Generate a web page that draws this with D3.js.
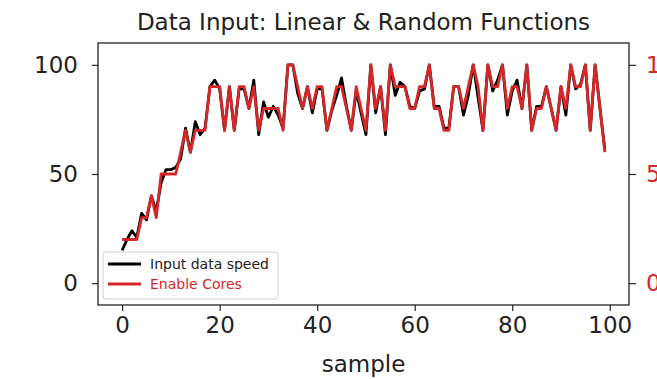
<!DOCTYPE html>
<html>
<head>
<meta charset="utf-8">
<title>Data Input</title>
<script src="https://d3js.org/d3.v7.min.js"></script>
<style>
  body { margin: 0; background: #fff; }
  svg { font-family: "DejaVu Sans", sans-serif; }
</style>
</head>
<body>
<script>
// input speed per sample (left axis)
const speed = [15, 20, 24, 21, 32, 29, 40, 33, 46, 52,
  52, 53, 57, 71, 60, 74, 68, 71, 90, 93,
  89, 70, 90, 70, 89, 89, 80, 93, 68, 83,
  76, 81, 77, 71, 100, 100, 87, 80, 90, 78,
  89, 89, 70, 79, 86, 94, 81, 70, 88, 78,
  68, 100, 78, 90, 68, 100, 86, 92, 90, 81,
  80, 88, 89, 100, 81, 81, 71, 71, 90, 90,
  77, 86, 100, 85, 70, 100, 88, 93, 100, 77,
  88, 93, 80, 100, 70, 81, 81, 90, 80, 70,
  90, 77, 100, 89, 91, 100, 70, 100, 80, 61]

// enabled cores per sample (right axis)
const cores = [2, 2, 2, 2, 3, 3, 4, 3, 5, 5,
  5, 5, 6, 7, 6, 7, 7, 7, 9, 9,
  9, 7, 9, 7, 9, 9, 8, 9, 7, 8,
  8, 8, 8, 7, 10, 10, 9, 8, 9, 8,
  9, 9, 7, 8, 9, 9, 8, 7, 9, 8,
  7, 10, 8, 9, 7, 10, 9, 9, 9, 8,
  8, 9, 9, 10, 8, 8, 7, 7, 9, 9,
  8, 9, 10, 9, 7, 10, 9, 9, 10, 8,
  9, 9, 8, 10, 7, 8, 8, 9, 8, 7,
  9, 8, 10, 9, 9, 10, 7, 10, 8, 6]

const xTicks = [0, 20, 40, 60, 80, 100]
const leftTicks = [0, 50, 100]
const rightTicks = [0, 5, 10]

const W = 657, H = 379
const red = "#d62728"
const mL = 98, mR = 629, mT = 43, mB = 305

const svg = d3.select("body").append("svg")
  .attr("width", W).attr("height", H)

const x = d3.scaleLinear().domain([-4.95, 103.95]).range([mL, mR])
const y = d3.scaleLinear().domain([-10, 110]).range([mB, mT])
const y2 = d3.scaleLinear().domain([-1, 11]).range([mB, mT])

// lines
const plot = svg.append("g")
const lineL = d3.line().x((d, i) => x(i)).y(d => y(d))
const lineR = d3.line().x((d, i) => x(i)).y(d => y2(d))

plot.append("path").datum(speed)
  .attr("d", lineL).attr("fill", "none")
  .attr("stroke", "#000").attr("stroke-width", 2.8)
  .attr("stroke-linejoin", "round")

plot.append("path").datum(cores)
  .attr("d", lineR).attr("fill", "none")
  .attr("stroke", red).attr("stroke-width", 2.8)
  .attr("stroke-linejoin", "round")

// axes
const fs = "23px"
const xAxis = svg.append("g")
  .attr("transform", `translate(0,${mB})`)
  .call(d3.axisBottom(x).tickValues(xTicks).tickSize(6).tickPadding(6))
const yAxis = svg.append("g")
  .attr("transform", `translate(${mL},0)`)
  .call(d3.axisLeft(y).tickValues(leftTicks).tickSize(6).tickPadding(14))
const y2Axis = svg.append("g")
  .attr("transform", `translate(${mR},0)`)
  .call(d3.axisRight(y2).tickValues(rightTicks).tickSize(7).tickPadding(10))

for (const a of [xAxis, yAxis, y2Axis]) {
  a.select(".domain").remove()
  a.selectAll("text").attr("font-size", fs).attr("font-family", "DejaVu Sans")
  a.selectAll("line").attr("stroke", "#222").attr("stroke-width", 1.2)
}
xAxis.selectAll("text").attr("fill", "#222")
yAxis.selectAll("text").attr("fill", "#222")
y2Axis.selectAll("text").attr("fill", red)

// frame
svg.append("rect")
  .attr("x", mL).attr("y", mT)
  .attr("width", mR - mL).attr("height", mB - mT)
  .attr("fill", "none").attr("stroke", "#222").attr("stroke-width", 1.3)

// title and x label
svg.append("text")
  .attr("x", (mL + mR) / 2).attr("y", 30)
  .attr("text-anchor", "middle").attr("font-size", "23px").attr("fill", "#222")
  .text("Data Input: Linear & Random Functions")

svg.append("text")
  .attr("x", (mL + mR) / 2).attr("y", 372)
  .attr("text-anchor", "middle").attr("font-size", "23px").attr("fill", "#222")
  .text("sample")

// legend
const lg = svg.append("g")
lg.append("rect")
  .attr("x", 103).attr("y", 252).attr("width", 175).attr("height", 47)
  .attr("rx", 3).attr("fill", "rgba(255,255,255,0.85)")
  .attr("stroke", "#d0d0d0").attr("stroke-width", 1)

const items = [
  {name: "Input data speed", color: "#000", text: "#222"},
  {name: "Enable Cores", color: red, text: red}
]
items.forEach((d, i) => {
  const yy = 264 + i * 20
  lg.append("line")
    .attr("x1", 108).attr("x2", 141).attr("y1", yy).attr("y2", yy)
    .attr("stroke", d.color).attr("stroke-width", 2.8)
  lg.append("text")
    .attr("x", 150).attr("y", yy + 5)
    .attr("font-size", "14px").attr("fill", d.text)
    .text(d.name)
})
</script>
</body>
</html>
